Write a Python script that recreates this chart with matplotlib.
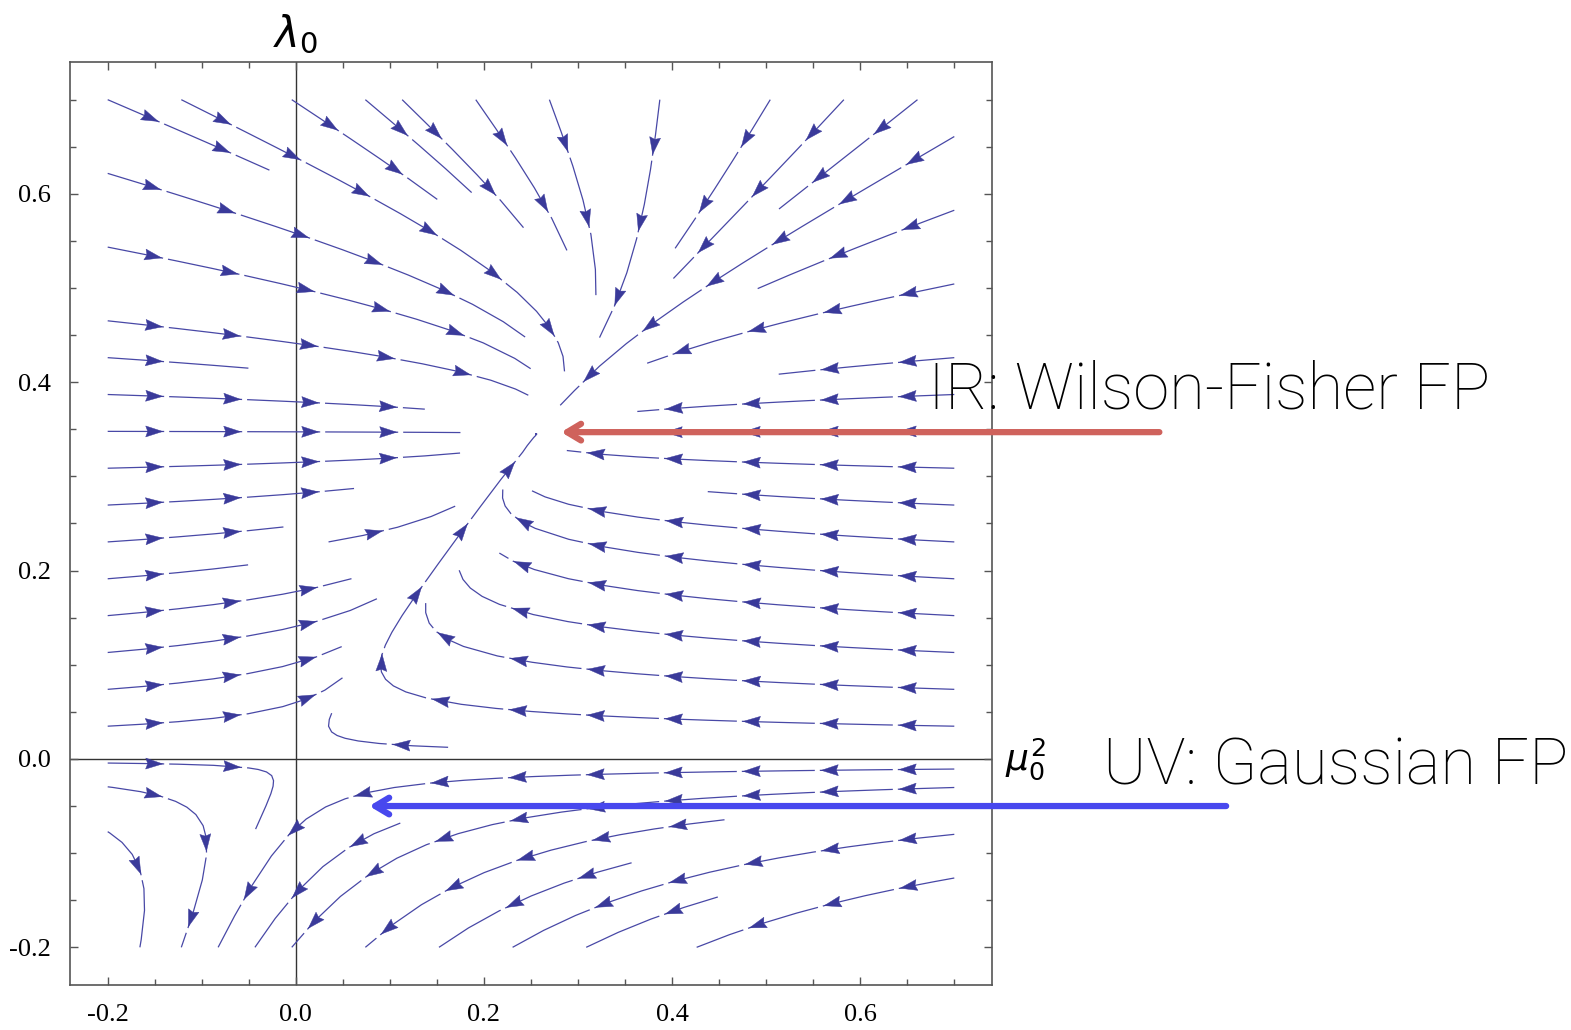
import numpy as np
import matplotlib.pyplot as plt
import matplotlib.patches as patches
from matplotlib.ticker import MultipleLocator, FormatStrFormatter

plt.rcParams['axes.unicode_minus'] = False

#%% flow data (fixed points)
mu_range = (-0.2, 0.7)      # mu_0^2 extent of the field
lam_range = (-0.2, 0.7)     # lambda_0 extent of the field
lam_wf = 0.345              # Wilson-Fisher coupling
rate_pos = 3.0              # mu^2 attraction for lambda > 0
rate_neg = 1.2              # mu^2 attraction for lambda < 0
a_coef = 2.87               # linear lambda feed into mu^2
b_coef = 1.9                # quadratic lambda feed into mu^2

x_ticks = [-0.2, 0.0, 0.2, 0.4, 0.6]
y_ticks = [-0.2, 0.0, 0.2, 0.4, 0.6]

ir_label = 'IR: Wilson-Fisher FP'
uv_label = 'UV: Gaussian FP'
ir_tip, ir_tail = (0.282, 0.347), (0.918, 0.347)
uv_tip, uv_tail = (0.078, -0.050), (0.989, -0.050)

line_col = '#4848a6'
head_col = '#3a3a9a'
ir_col = '#cf625c'
uv_col = '#4848ee'


#%% vector field
mu = np.linspace(mu_range[0], mu_range[1], 150)
lam = np.linspace(lam_range[0], lam_range[1], 150)
MU, LAM = np.meshgrid(mu, lam)
rate = 0.5 * (rate_pos + rate_neg) + 0.5 * (rate_pos - rate_neg) * np.tanh(LAM / 0.05)
null_mu = (a_coef * LAM - b_coef * LAM**2) / rate_pos
d_mu = -rate * (MU - null_mu)
d_lam = LAM * (1 - LAM / lam_wf)

#%% plot
fig = plt.figure(figsize=(15.71, 10.30), dpi=100)
ax = fig.add_axes([0.0446, 0.0437, 0.5868, 0.8961])
ax.set_xlim(-0.24, 0.74)
ax.set_ylim(-0.24, 0.74)

strm = ax.streamplot(MU, LAM, d_mu, d_lam, density=0.8, color=line_col,
                     linewidth=0.9, arrowsize=0.1, minlength=0.15)
for p in list(ax.patches):
    p.remove()


def chain_segments(segs):
    """ regroupe les segments du LineCollection en lignes de courant """
    lines, cur = [], None
    for s in segs:
        s = np.asarray(s)
        if cur is not None and np.allclose(s[0], cur[-1], atol=1e-9):
            cur.extend(list(s[1:]))
        else:
            if cur is not None:
                lines.append(np.array(cur))
            cur = list(s)
    if cur is not None:
        lines.append(np.array(cur))
    return lines


def along(sp, s, pix):
    return np.array([np.interp(sp, s, pix[:, 0]), np.interp(sp, s, pix[:, 1])])


# fleches a la Mathematica, regulierement espacees le long des lignes
first_gap, spacing = 55, 78   # pixels
head_len, head_half = 17, 5.5  # pixels
gap_len = 5
to_data = ax.transData.inverted()
for line in chain_segments(strm.lines.get_segments()):
    pix = ax.transData.transform(line)
    ds = np.hypot(*np.diff(pix, axis=0).T)
    s = np.concatenate([[0], np.cumsum(ds)])
    L = s[-1]
    if L < 20:
        continue
    pos = [max(min(first_gap, L / 2), head_len)]
    while pos[-1] + spacing < L - 15:
        pos.append(pos[-1] + spacing)
    for sp in pos:
        tip = along(sp, s, pix)
        d = tip - along(sp - head_len, s, pix)
        n = np.linalg.norm(d)
        if n == 0:
            continue
        d = d / n
        nrm = np.array([-d[1], d[0]])
        base = tip - head_len * d
        notch = tip - 0.88 * head_len * d
        tri = np.array([tip, base + head_half * nrm, notch, base - head_half * nrm])
        ax.add_patch(patches.Polygon(to_data.transform(tri), closed=True,
                                     facecolor=head_col, edgecolor=head_col,
                                     lw=0.3, zorder=3))
        # petit blanc apres la pointe
        if sp + gap_len + 2 < L:
            gap = to_data.transform(np.array([tip + 1.5 * d, along(sp + gap_len + 1.5, s, pix)]))
            ax.plot(gap[:, 0], gap[:, 1], color='white', lw=2.2,
                    solid_capstyle='butt', zorder=2.5)

ax.axhline(0, color='#333333', lw=1.0, zorder=0)
ax.axvline(0, color='#333333', lw=1.0, zorder=0)

ax.set_xticks(x_ticks)
ax.set_yticks(y_ticks)
ax.xaxis.set_minor_locator(MultipleLocator(0.05))
ax.yaxis.set_minor_locator(MultipleLocator(0.05))
ax.xaxis.set_major_formatter(FormatStrFormatter('%.1f'))
ax.yaxis.set_major_formatter(FormatStrFormatter('%.1f'))
ax.tick_params(which='both', direction='in', top=True, right=True,
               color='#555555', width=1.0)
ax.tick_params(which='major', length=6, pad=14, labelsize=19,
               labelfontfamily='Liberation Serif')
ax.tick_params(which='minor', length=4)
for sp in ax.spines.values():
    sp.set_color('#555555')
    sp.set_linewidth(1.2)

# noms des axes
ax.text(0.0, 0.769, r'$\lambda_0$', fontsize=30, ha='center', va='center',
        clip_on=False)
ax.text(0.754, 0.0, r'$\mu_0^2$', fontsize=26, ha='left', va='center',
        clip_on=False)

# fleches vers les points fixes
ax.annotate('', xy=ir_tip, xytext=ir_tail, annotation_clip=False,
            arrowprops=dict(arrowstyle='->,head_length=1.0,head_width=0.6',
                            color=ir_col, lw=4.5, capstyle='round',
                            joinstyle='round', shrinkA=0, shrinkB=0))
ax.annotate('', xy=uv_tip, xytext=uv_tail, annotation_clip=False,
            arrowprops=dict(arrowstyle='->,head_length=1.0,head_width=0.6',
                            color=uv_col, lw=4.5, capstyle='round',
                            joinstyle='round', shrinkA=0, shrinkB=0))

fig.text(0.591, 0.621, ir_label, fontsize=47, family='Roboto',
         fontweight='light', ha='left', va='center')
fig.text(0.702, 0.256, uv_label, fontsize=47, family='Roboto',
         fontweight='light', ha='left', va='center')

fig.savefig('out.png', dpi=100)
